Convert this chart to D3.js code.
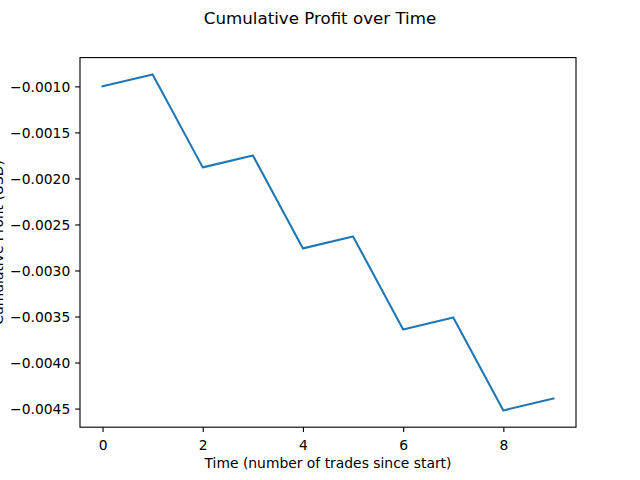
<!DOCTYPE html>
<html>
<head>
<meta charset="utf-8">
<script src="https://cdn.jsdelivr.net/npm/d3@7"></script>
<style>
  html, body { margin: 0; padding: 0; background: #fff; }
  svg { display: block; font-family: "DejaVu Sans", sans-serif; }
</style>
</head>
<body>
<svg id="chart" width="640" height="480"></svg>
<script>
// Data
const trades = [0, 1, 2, 3, 4, 5, 6, 7, 8, 9];
const cumulativeProfit = [-0.00100, -0.00087, -0.00188, -0.00175, -0.00276, -0.00263, -0.00364, -0.00351, -0.00452, -0.00439];
const xTickValues = [0, 2, 4, 6, 8];
const yTickValues = [-0.0045, -0.0040, -0.0035, -0.0030, -0.0025, -0.0020, -0.0015, -0.0010];
const titleText = "Cumulative Profit over Time";
const xLabelText = "Time (number of trades since start)";
const yLabelText = "Cumulative Profit (USD)";

(function () {
const W = 640, H = 480;
const mLeft = 80, mRight = 576, mTop = 57.6, mBottom = 427.2;
const pt = 100 / 72;

const svg = d3.select("#chart");
svg.append("rect").attr("width", W).attr("height", H).attr("fill", "#fff");

// Scales with matplotlib-like 5% margins
const xMin = d3.min(trades), xMax = d3.max(trades);
const xPad = (xMax - xMin) * 0.05;
const x = d3.scaleLinear().domain([xMin - xPad, xMax + xPad]).range([mLeft, mRight]);
const yMin = d3.min(cumulativeProfit), yMax = d3.max(cumulativeProfit);
const yPad = (yMax - yMin) * 0.05;
const y = d3.scaleLinear().domain([yMin - yPad, yMax + yPad]).range([mBottom, mTop]);

const tickLen = 3.5 * pt, tickPad = 3.5 * pt;
const fontTick = 10 * pt;

// Axes
const xAxis = d3.axisBottom(x).tickValues(xTickValues).tickFormat(d3.format("d"))
  .tickSizeInner(tickLen).tickSizeOuter(0).tickPadding(tickPad);
const yAxis = d3.axisLeft(y).tickValues(yTickValues).tickFormat(d3.format(".4f"))
  .tickSizeInner(tickLen).tickSizeOuter(0).tickPadding(tickPad);

const gx = svg.append("g").attr("transform", `translate(0,${mBottom})`).call(xAxis);
const gy = svg.append("g").attr("transform", `translate(${mLeft},0)`).call(yAxis);
[gx, gy].forEach(g => {
  g.select(".domain").remove();
  g.selectAll(".tick line").attr("stroke", "#000").attr("stroke-width", 0.8 * pt);
  g.selectAll(".tick text").attr("fill", "#000").attr("font-size", fontTick)
    .attr("font-family", "DejaVu Sans, sans-serif");
});
gx.selectAll(".tick text").attr("dy", "0.96em");
gy.selectAll(".tick text").attr("dy", "0.36em");

// Line
const line = d3.line().x((d, i) => x(trades[i])).y(d => y(d));
svg.append("path").datum(cumulativeProfit)
  .attr("d", line)
  .attr("fill", "none")
  .attr("stroke", "#1f77b4")
  .attr("stroke-width", 1.5 * pt)
  .attr("stroke-linejoin", "round")
  .attr("stroke-linecap", "square");

// Frame
svg.append("rect")
  .attr("x", mLeft).attr("y", mTop)
  .attr("width", mRight - mLeft).attr("height", mBottom - mTop)
  .attr("fill", "none").attr("stroke", "#000").attr("stroke-width", 0.8 * pt);

// Title
svg.append("text").attr("x", W / 2).attr("y", 24)
  .attr("text-anchor", "middle").attr("font-size", 12 * pt).attr("fill", "#000")
  .text(titleText);

// X label
svg.append("text").attr("x", (mLeft + mRight) / 2).attr("y", 467.8)
  .attr("text-anchor", "middle").attr("font-size", fontTick).attr("fill", "#000")
  .text(xLabelText);

// Y label
svg.append("text")
  .attr("transform", `translate(3,${(mTop + mBottom) / 2}) rotate(-90)`)
  .attr("text-anchor", "middle").attr("font-size", fontTick).attr("fill", "#000")
  .text(yLabelText);
})();
</script>
</body>
</html>
